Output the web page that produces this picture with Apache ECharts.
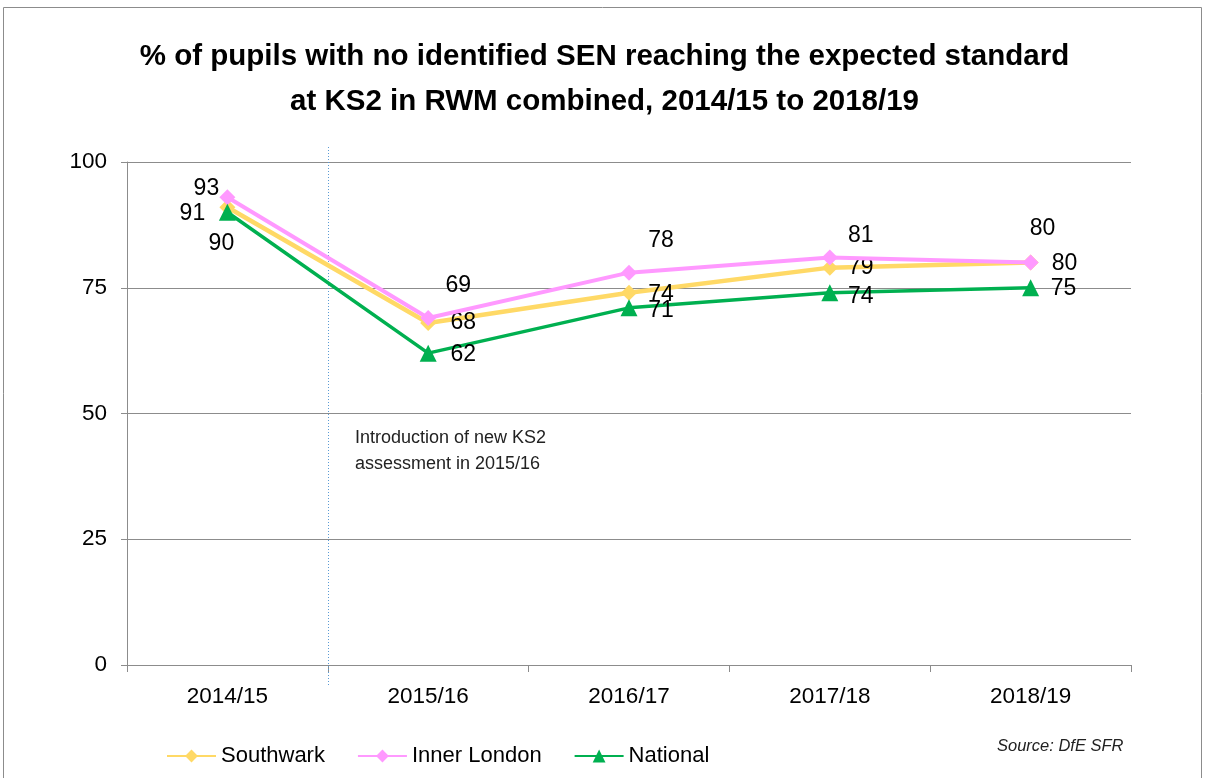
<!DOCTYPE html>
<html>
<head>
    <meta charset="utf-8">
    <title>KS2 RWM no SEN</title>
    <script src="https://cdn.jsdelivr.net/npm/echarts@6/dist/echarts.min.js"></script>
    <style>
        html, body { margin: 0; padding: 0; background: #fff; }
        #chart { width: 1209px; height: 778px; }
    </style>
</head>
<body>
    <div id="chart"></div>
    <script type="text/javascript">
        var years = ['2014/15', '2015/16', '2016/17', '2017/18', '2018/19'];
        var southwark = [91, 68, 74, 79, 80];
        var innerLondon = [93, 69, 78, 81, 80];
        var national = [90, 62, 71, 74, 75];
        var yTicks = [0, 25, 50, 75, 100];

        // label offsets (px from the point), hand-placed like the original
        var offSouthwark = [[-35, 6], [35, 0], [32, 2], [31, 0], [34, 1]];
        var offInner = [[-21, -9], [30, -32], [32, -32], [31, -22], [12, -34]];
        var offNational = [[-6, 31], [35, 2], [32, 3], [31, 4], [33, 1]];

        var labelFont = 'Liberation Sans, Arial, sans-serif';

        function withLabels(values, offsets) {
            return values.map(function (v, i) {
                return {
                    value: v,
                    label: {
                        show: true,
                        position: 'inside',
                        offset: offsets[i],
                        color: '#000',
                        fontSize: 23,
                        fontFamily: labelFont
                    }
                };
            });
        }

        var gridLeft = 127, gridRight = 78, gridTop = 162, gridBottom = 113;
        var chart = echarts.init(document.getElementById('chart'));
        var plotW = 1209 - gridLeft - gridRight;
        var divX = Math.round(gridLeft + plotW / years.length) + 0.5;

        var option = {
            animation: false,
            title: {
                text: '% of pupils with no identified SEN reaching the expected standard\nat KS2 in RWM combined, 2014/15 to 2018/19',
                left: 'center',
                top: 29,
                textStyle: {
                    fontFamily: labelFont,
                    fontWeight: 'bold',
                    fontSize: 29.5,
                    lineHeight: 45,
                    color: '#000'
                }
            },
            legend: {
                left: 161,
                top: 740,
                itemWidth: 49,
                itemHeight: 16,
                itemGap: 32,
                textStyle: { fontFamily: labelFont, fontSize: 22, color: '#000' },
                data: ['Southwark', 'Inner London', 'National']
            },
            grid: { left: gridLeft, right: gridRight, top: gridTop, bottom: gridBottom },
            xAxis: {
                type: 'category',
                data: years,
                boundaryGap: true,
                axisLine: { lineStyle: { color: '#8c8c8c' } },
                axisTick: { show: true, length: 7, lineStyle: { color: '#8c8c8c' } },
                axisLabel: { color: '#000', fontSize: 22.5, fontFamily: labelFont, margin: 20 }
            },
            yAxis: {
                type: 'value',
                min: yTicks[0],
                max: yTicks[yTicks.length - 1],
                interval: 25,
                axisLine: { show: true, lineStyle: { color: '#8c8c8c' } },
                axisTick: { show: true, length: 6, lineStyle: { color: '#8c8c8c' } },
                axisLabel: { color: '#000', fontSize: 22.5, fontFamily: labelFont, margin: 20 },
                splitLine: { lineStyle: { color: '#8c8c8c' } }
            },
            series: [
                {
                    name: 'Southwark',
                    type: 'line',
                    data: withLabels(southwark, offSouthwark),
                    symbol: 'diamond',
                    symbolSize: 16,
                    itemStyle: { color: '#FFD966' },
                    lineStyle: { color: '#FFD966', width: 4.5 },
                    z: 2
                },
                {
                    name: 'Inner London',
                    type: 'line',
                    data: withLabels(innerLondon, offInner),
                    symbol: 'diamond',
                    symbolSize: 16,
                    itemStyle: { color: '#FF99FF' },
                    lineStyle: { color: '#FF99FF', width: 4 },
                    z: 3
                },
                {
                    name: 'National',
                    type: 'line',
                    data: withLabels(national, offNational),
                    symbol: 'triangle',
                    symbolSize: 17,
                    itemStyle: { color: '#00B050' },
                    lineStyle: { color: '#00B050', width: 3.5 },
                    z: 4
                }
            ],
            graphic: [
                {
                    type: 'rect',
                    shape: { x: 3.5, y: 7.5, width: 1198, height: 780 },
                    style: { fill: 'none', stroke: '#8c8c8c', lineWidth: 1 },
                    silent: true
                },
                {
                    type: 'line',
                    shape: { x1: divX, y1: 147, x2: divX, y2: 685 },
                    style: { stroke: '#5B9BD5', lineWidth: 1, lineDash: [1, 2] },
                    z: 1
                },
                {
                    type: 'text',
                    left: 355,
                    top: 425,
                    style: {
                        text: 'Introduction of new KS2\nassessment in 2015/16',
                        fontFamily: labelFont,
                        fontSize: 18,
                        lineHeight: 26,
                        fill: '#222'
                    }
                },
                {
                    type: 'text',
                    left: 997,
                    top: 738,
                    style: {
                        text: 'Source: DfE SFR',
                        fontFamily: labelFont,
                        fontStyle: 'italic',
                        fontSize: 16.5,
                        fill: '#222'
                    }
                }
            ]
        };
        chart.setOption(option);
    </script>
</body>
</html>
